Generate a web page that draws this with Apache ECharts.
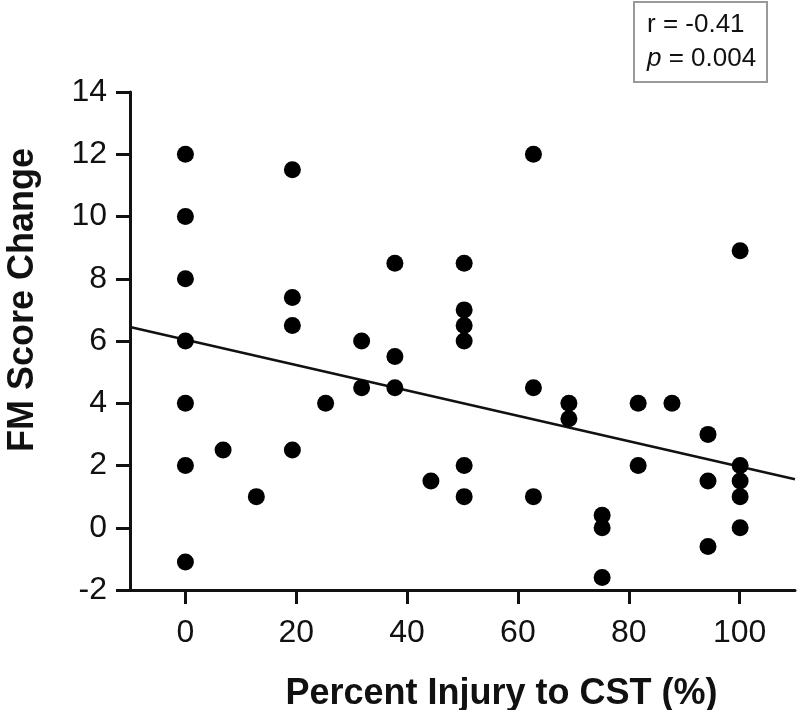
<!DOCTYPE html>
<html>
<head>
<meta charset="utf-8">
<script src="https://cdn.jsdelivr.net/npm/echarts@6/dist/echarts.min.js"></script>
<style>html,body{margin:0;padding:0;background:#fff}#c{width:800px;height:710px}</style>
</head>
<body>
<div id="c"></div>
<script>
const injuryX = [0,0,0,0,0,0,0, 6.8, 12.8, 19.3,19.3,19.3,19.3, 25.3, 31.8,31.8, 37.8,37.8,37.8, 44.3,
  50.3,50.3,50.3,50.3,50.3,50.3, 62.8,62.8,62.8, 69.2,69.2, 75.2,75.2,75.2, 81.7,81.7, 87.8, 94.3,94.3,94.3,
  100.1,100.1,100.1,100.1,100.1];
const fmChange = [12,10,8,6,4,2,-1.1, 2.5, 1, 11.5,7.4,6.5,2.5, 4, 6,4.5, 8.5,5.5,4.5, 1.5,
  8.5,7,6.5,6,2,1, 12,4.5,1, 4,3.5, 0.4,0,-1.6, 4,2, 4, 3,1.5,-0.6,
  8.9,2,1.5,1,0];
const fitX = [-10, 110];
const fitY = [6.45, 1.56];
const xTicks = [0,20,40,60,80,100];
const statR = 'r = -0.41';
const statP = '0.004';

const font = "'Liberation Sans', Arial, Helvetica, sans-serif";
const chart = echarts.init(document.getElementById('c'), null, {renderer:'canvas'});
chart.setOption({
  animation:false,
  backgroundColor:'#fff',
  grid:{left:130, right:5, top:92, bottom:120, containLabel:false, outerBoundsMode:'none'},
  xAxis:{
    type:'value', min:-10, max:110,
    name:'Percent Injury to CST (%)', nameLocation:'middle', nameGap:86,
    nameTextStyle:{fontFamily:font, fontSize:36, fontWeight:'bold', color:'#111', padding:[0,0,0,78]},
    axisLine:{onZero:false, lineStyle:{color:'#111', width:3}},
    axisTick:{customValues:xTicks, length:14, lineStyle:{color:'#111', width:3}},
    axisLabel:{customValues:xTicks, fontFamily:font, fontSize:32, color:'#111', margin:27},
    splitLine:{show:false}
  },
  yAxis:{
    type:'value', min:-2, max:14, interval:2,
    name:'FM Score Change', nameLocation:'middle', nameGap:89,
    nameTextStyle:{fontFamily:font, fontSize:36, fontWeight:'bold', color:'#111', padding:[0,0,0,82]},
    axisLine:{show:true, onZero:false, lineStyle:{color:'#111', width:3}},
    axisTick:{show:true, length:14, lineStyle:{color:'#111', width:3}},
    axisLabel:{fontFamily:font, fontSize:32, color:'#111', margin:23},
    splitLine:{show:false}
  },
  series:[
    {type:'line', data:fitX.map((x,i)=>[x,fitY[i]]), showSymbol:false, symbol:'none',
     lineStyle:{color:'#111', width:2.5}, z:1},
    {type:'scatter', data:injuryX.map((x,i)=>[x,fmChange[i]]), symbolSize:17,
     itemStyle:{color:'#000', opacity:1}, z:2}
  ],
  graphic:[
    {type:'rect', shape:{x:634, y:2, width:133, height:80},
     style:{fill:'#fff', stroke:'#999', lineWidth:2}},
    {type:'text', left:647, top:12,
     style:{text:statR, font:'26px ' + font, fill:'#111'}},
    {type:'text', left:647, top:46,
     style:{text:'{i|p} = ' + statP, font:'26px ' + font, fill:'#111',
       rich:{i:{fontStyle:'italic', fontSize:26, fontFamily:font, fill:'#111'}}}}
  ]
});
</script>
</body>
</html>
